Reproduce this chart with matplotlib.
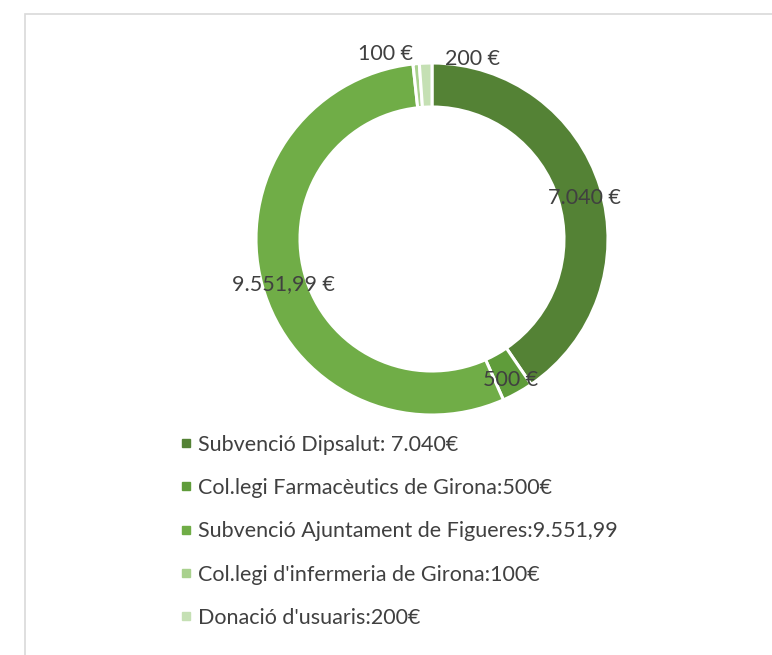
import matplotlib
matplotlib.use("Agg")
import matplotlib.pyplot as plt
from matplotlib.lines import Line2D
from matplotlib.patches import Rectangle
import numpy as np

plt.rcParams['font.family'] = ['Lato', 'DejaVu Sans']

categories = ["Subvenció Dipsalut: 7.040€",
              "Col.legi Farmacèutics de Girona:500€",
              "Subvenció Ajuntament de Figueres:9.551,99",
              "Col.legi d'infermeria de Girona:100€",
              "Donació d'usuaris:200€"]
values = [7040, 500, 9551.99, 100, 200]
value_labels = ["7.040 €", "500 €", "9.551,99 €", "100 €", "200 €"]
colors = ["#548235", "#5f9c3a", "#70ad47", "#a9d18e", "#c5e0b4"]

W, H = 772, 655
fig = plt.figure(figsize=(W / 100, H / 100), dpi=100)

# light frame
fig.patches.append(Rectangle((25 / W, -0.01), 1.0, 1 - 14 / H + 0.01,
                             transform=fig.transFigure, fill=False,
                             edgecolor="#d9d9d9", linewidth=1.2))

cx, cy, R = 432, 239, 176
ax = fig.add_axes([(cx - R) / W, (H - cy - R) / H, 2 * R / W, 2 * R / H])
ax.set_aspect('equal')
ax.axis('off')

wedges, _ = ax.pie(values, colors=colors, startangle=90, counterclock=False,
                   radius=1.0, wedgeprops=dict(width=0.25, edgecolor='white', linewidth=2.2))
ax.set_xlim(-1, 1)
ax.set_ylim(-1, 1)

# label placement (radius, angle offset in degrees)
label_adj = [(0.90, -2), (0.92, 0), (0.885, 1.8), (1.085, 9), (1.05, -14.6)]
for w, lab, (r, off) in zip(wedges, value_labels, label_adj):
    ang = np.deg2rad((w.theta1 + w.theta2) / 2 + off)
    ax.text(r * np.cos(ang), r * np.sin(ang), lab, ha='center', va='center',
            fontsize=15.5, color="#404040")

handles = [Line2D([0], [0], marker='s', linestyle='none', markersize=5.5,
                  markerfacecolor=c, markeredgecolor=c) for c in colors]
fig.legend(handles, categories, loc='upper left', bbox_to_anchor=(170 / W, 1 - 424 / H),
           frameon=False, fontsize=15.5, labelcolor="#404040",
           handlelength=0.5, handletextpad=0.3, labelspacing=1.08, borderpad=0)

fig.savefig("out.png", dpi=100, facecolor="white")
